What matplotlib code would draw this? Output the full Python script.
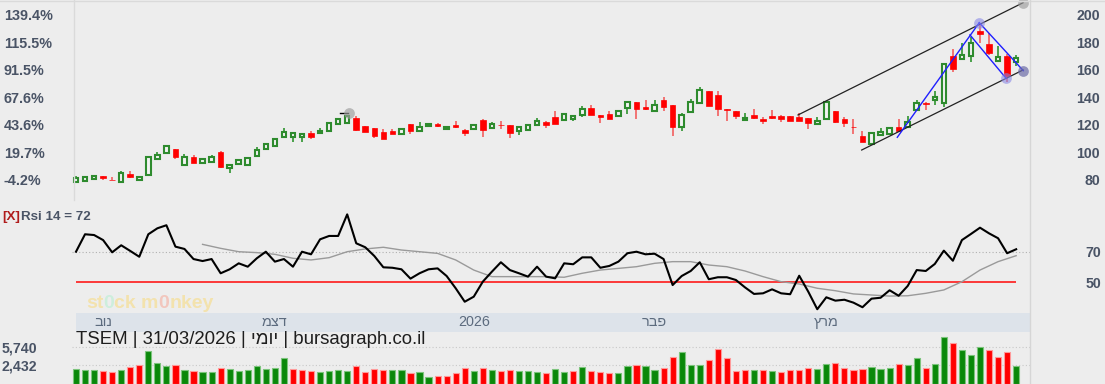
import re
import numpy as np
import matplotlib
matplotlib.use('Agg')
import matplotlib.pyplot as plt
from matplotlib.patches import Rectangle
from matplotlib.lines import Line2D
from matplotlib.ticker import NullLocator

# TSEM daily candles, session 0 = first bar on the chart (early Nov 2025)
opens = [78.8, 79.3, 80.7, 82.7, 80.2, 78.5, 84.4, 80.0, 83.4, 95.5,
         99.6, 102.5, 90.9, 96.5, 92.4, 93.1, 100.4, 88.5, 91.6, 90.7,
         97.5, 102.5, 104.7, 111.1, 111.5, 111.5, 114.4, 114.0, 115.6, 120.7,
         121.5, 125.1, 119.3, 117.8, 114.9, 115.6, 113.2, 120.7, 115.6, 119.3,
         120.5, 117.1, 120.2, 116.4, 117.1, 123.9, 117.8, 120.2, 119.8, 115.4,
         116.4, 119.8, 122.4, 125.8, 123.4, 124.4, 127.3, 132.4, 127.3, 128.0,
         126.5, 132.1, 136.5, 133.0, 130.2, 138.2, 134.5, 118.3, 129.5, 135.8,
         144.7, 141.8, 131.6, 130.0, 123.9, 127.3, 124.4, 126.5, 126.5, 126.5,
         125.8, 125.1, 120.7, 124.4, 130.2, 124.6, 118.8, 112.0, 106.2, 112.5,
         113.5, 118.5, 118.8, 130.9, 135.8, 138.2, 136.2, 170.2, 167.8, 170.2,
         188.4, 179.1, 166.5, 170.2, 165.6]
highs = [82.7, 82.7, 83.5, 82.9, 82.2, 86.5, 86.5, 82.3, 97.5, 100.4,
         105.0, 102.8, 98.9, 98.2, 95.5, 98.2, 101.1, 91.3, 94.8, 96.3,
         104.2, 106.6, 110.3, 117.8, 114.3, 113.5, 115.6, 117.8, 122.3, 125.0,
         127.6, 126.5, 119.5, 118.0, 117.1, 117.1, 117.5, 121.0, 122.2, 121.7,
         121.7, 119.4, 122.9, 116.9, 120.0, 124.6, 121.9, 122.7, 120.0, 118.5,
         120.7, 125.1, 122.6, 130.2, 128.1, 127.0, 133.8, 134.5, 127.5, 130.0,
         130.7, 137.3, 136.8, 138.2, 138.2, 140.1, 134.8, 128.9, 138.7, 147.4,
         145.0, 144.7, 131.8, 130.2, 128.5, 131.4, 126.0, 130.7, 127.5, 126.8,
         128.9, 125.3, 125.8, 136.8, 130.4, 126.0, 124.6, 115.9, 114.3, 117.8,
         118.8, 124.4, 126.5, 138.2, 136.7, 144.7, 164.5, 175.3, 179.9, 184.2,
         194.0, 186.7, 177.2, 171.6, 170.9]
lows = [78.3, 78.8, 80.5, 80.0, 79.7, 78.0, 81.8, 79.1, 83.2, 94.5,
        99.3, 95.1, 90.6, 92.0, 92.2, 93.0, 89.0, 85.3, 91.4, 90.5,
        97.3, 102.3, 104.5, 110.9, 107.9, 107.9, 109.6, 113.8, 115.3, 120.4,
        121.2, 115.8, 114.9, 110.8, 109.6, 113.5, 113.0, 113.7, 115.4, 119.1,
        118.8, 116.9, 118.1, 112.2, 116.9, 111.5, 116.9, 117.3, 110.8, 112.9,
        116.2, 119.6, 117.6, 120.7, 123.2, 123.1, 126.0, 127.3, 121.7, 124.4,
        126.3, 127.8, 124.6, 130.7, 130.0, 130.2, 112.2, 115.9, 129.3, 135.6,
        133.8, 126.5, 123.1, 124.6, 123.1, 124.1, 120.7, 124.7, 122.4, 122.9,
        122.6, 117.3, 120.5, 124.2, 121.7, 118.5, 113.7, 107.6, 106.0, 112.2,
        113.3, 115.4, 118.0, 130.7, 130.9, 134.5, 133.3, 158.8, 167.3, 165.8,
        179.4, 170.9, 166.3, 151.5, 162.9]
closes = [81.7, 82.0, 83.1, 81.5, 79.8, 84.9, 82.2, 81.9, 96.5, 98.2,
          104.5, 96.5, 96.9, 92.6, 95.1, 96.5, 89.2, 91.1, 94.3, 95.8,
          101.8, 106.2, 110.0, 114.7, 114.0, 113.2, 111.5, 115.9, 121.8, 124.6,
          126.9, 116.0, 115.1, 112.2, 109.8, 113.7, 117.3, 115.9, 118.8, 120.7,
          119.3, 118.9, 118.3, 114.4, 119.8, 116.4, 120.9, 119.8, 114.4, 118.3,
          119.8, 122.7, 120.0, 120.9, 127.8, 126.8, 131.4, 127.5, 126.0, 124.6,
          130.4, 136.9, 131.4, 131.7, 134.8, 133.3, 118.8, 127.1, 136.9, 145.5,
          134.0, 131.9, 130.9, 126.3, 124.9, 125.2, 122.9, 124.9, 124.6, 123.1,
          122.8, 121.2, 123.1, 136.5, 122.4, 121.2, 118.5, 107.9, 114.0, 114.9,
          117.8, 115.6, 122.2, 136.2, 135.1, 140.1, 164.1, 160.7, 170.7, 179.4,
          186.4, 172.1, 169.7, 155.6, 168.9]
volumes = [2070, 1970, 1970, 1830, 1740, 1970, 2270, 2500, 4880, 2750,
           2390, 2500, 1970, 1880, 1790, 1790, 2140, 2070, 1830, 1970,
           2390, 2070, 2170, 3500, 2070, 1970, 1880, 1790, 1880, 1970,
           1880, 2390, 1790, 2070, 1970, 1970, 1970, 1660, 1740, 1410,
           1480, 1480, 1660, 2170, 1880, 2170, 1970, 1880, 1970, 1880,
           1880, 1790, 1660, 2070, 1790, 1880, 2270, 1830, 1740, 1660,
           1660, 2390, 2500, 2390, 1970, 2170, 3670, 4650, 2530, 2530,
           3090, 5370, 3500, 1880, 1970, 1970, 1970, 1880, 1790, 1970,
           1970, 2170, 2070, 2620, 2750, 2170, 1970, 2070, 2270, 2070,
           2170, 2620, 2500, 3500, 2170, 2620, 9520, 7150, 5120, 4030,
           5910, 5120, 3670, 4650, 2390]

# RSI(14) per session and its moving average (read every second session)
rsi = [70.0, 81.4, 80.9, 77.6, 69.6, 74.2, 70.5, 66.7, 81.4, 85.3,
       87.3, 73.3, 71.8, 65.2, 63.9, 65.2, 55.9, 58.5, 62.4, 60.2,
       65.7, 70.0, 63.5, 65.2, 60.2, 70.0, 68.3, 78.1, 80.3, 80.3,
       94.4, 75.5, 72.9, 67.2, 59.8, 59.5, 58.5, 52.4, 55.9, 58.5,
       59.1, 54.1, 46.1, 37.3, 40.6, 50.4, 56.9, 63.1, 58.0, 55.9,
       53.7, 60.2, 53.7, 52.6, 62.4, 61.8, 66.3, 66.3, 59.5, 60.7,
       63.5, 69.0, 70.0, 68.3, 68.7, 65.2, 48.2, 54.1, 57.4, 63.1,
       52.0, 53.3, 53.3, 51.5, 46.7, 42.4, 42.8, 45.4, 42.8, 42.2,
       54.3, 43.9, 32.4, 40.2, 38.0, 38.6, 36.7, 33.7, 39.3, 39.9,
       44.8, 41.2, 47.6, 58.0, 57.4, 62.0, 70.7, 64.1, 77.6, 81.6,
       85.7, 82.0, 78.8, 69.0, 71.6]
rsi_ma_idx = list(range(14, 105, 2))
rsi_ma = [74.8, 72.2, 70.0, 69.4, 68.3, 65.7, 64.6, 66.1, 70.0, 71.8,
          72.9, 71.1, 70.0, 68.9, 64.6, 58.0, 53.7, 53.7, 53.7, 53.7,
          53.3, 55.9, 58.0, 59.1, 60.2, 62.4, 63.5, 63.5, 61.3, 60.2,
          57.4, 53.7, 50.4, 48.9, 46.1, 44.5, 42.4, 41.7, 41.0, 41.2,
          42.8, 45.0, 50.4, 58.0, 63.5, 67.4]

price_ticks = [80, 100, 120, 140, 160, 180, 200]
pct_labels = ['-4.2%', '19.7%', '43.6%', '67.6%', '91.5%', '115.5%', '139.4%']
rsi_ticks = [50, 70]
vol_ticks = [2432, 5740]
vol_labels = ['2,432', '5,740']
month_idx = [3, 22, 44, 64, 83]
month_labels = ['נוב', 'דצמ', '2026', 'פבר', 'מרץ']
title_parts = ['TSEM', '31/03/2026', 'יומי', 'bursagraph.co.il']

# user drawings on the price panel: (session, price) anchors
channel_top = ([79.87, 104.76], [127.3, 208.9])
channel_bottom = ([86.91, 104.76], [101.8, 160.0])
blue_legs = [([90.85, 99.92], [111.05, 194.4]),
             ([98.89, 102.88], [185.5, 154.0]),
             ([99.92, 104.79], [194.4, 159.5])]
gray_marks = ([30.15, 104.76], [128.5, 208.9])
blue_marks = ([99.92, 102.88], [194.4, 154.0])
end_mark = ([104.79], [159.5])
peak_dash = ([29.2, 30.1], [128.5, 128.5])

W, H = 1105, 384
X0, STEP = 76, 9.04          # pixel x of session 0, pixels per session
BG = '#ededed'
SLATE = '#4a5466'
FONT = ['Liberation Sans', 'DejaVu Sans']
plt.rcParams['font.family'] = FONT


def visual(s):
    # no bidi in matplotlib, so flip Hebrew runs to get right-to-left reading
    return re.sub(r'[\u0590-\u05FF]+', lambda m: m.group(0)[::-1], s)


def fy(y):
    return 1 - y / H


fig = plt.figure(figsize=(W / 100, H / 100), dpi=100, facecolor=BG)


def panel(x0, y0, x1, y1):
    ax = fig.add_axes([x0 / W, 1 - y1 / H, (x1 - x0) / W, (y1 - y0) / H])
    ax.set_facecolor('none')
    for s in ax.spines.values():
        s.set_visible(False)
    ax.set_xlim((x0 - X0) / STEP, (x1 - X0) / STEP)
    ax.set_xticks([])
    ax.tick_params(length=0)
    return ax


n = len(closes)
idx = np.arange(n)

# ---- price panel
ax_p = panel(72, 0, 1030, 200)
ax_p.set_ylim(65.45, 210.9)
for i in idx:
    o, h, l, c = opens[i], highs[i], lows[i], closes[i]
    if c >= o:
        ax_p.vlines(i, l, h, color='#3d9b3d', lw=1.3, zorder=1)
        ax_p.add_patch(Rectangle((i - 0.25, o), 0.5, c - o, facecolor='#f3f3f3',
                                 edgecolor='#2e8b2e', lw=1.5, zorder=2))
    else:
        ax_p.vlines(i, l, h, color='#f26a6a', lw=1.3, zorder=1)
        ax_p.add_patch(Rectangle((i - 0.31, c), 0.62, o - c, facecolor='#ff0000',
                                 edgecolor='#ff0000', lw=0.5, zorder=2))

for xs, ys in (channel_top, channel_bottom):
    ax_p.plot(xs, ys, color='#222222', lw=0.9, zorder=3)
for xs, ys in blue_legs:
    ax_p.plot(xs, ys, color='#1f1fff', lw=1.0, zorder=3)
ax_p.plot(*peak_dash, color='black', lw=1.0, zorder=3)
ax_p.scatter(*gray_marks, s=60, color='#9c9c9c', alpha=0.65, lw=0, zorder=4)
ax_p.scatter(*blue_marks, s=60, color='#8a8ae6', alpha=0.6, lw=0, zorder=4)
ax_p.scatter(*end_mark, s=60, color='#6c6ca8', alpha=0.7, lw=0, zorder=4)

ax_p.set_yticks(price_ticks, pct_labels, fontweight='bold', ha='left')
ax_p.tick_params(axis='y', pad=49, labelsize=10.4, labelcolor=SLATE)

ax_pr = ax_p.twinx()
for s in ax_pr.spines.values():
    s.set_visible(False)
ax_pr.set_ylim(ax_p.get_ylim())
ax_pr.set_yticks(price_ticks, [str(p) for p in price_ticks], fontweight='bold', ha='right')
ax_pr.tick_params(axis='y', length=0, pad=50.4, labelsize=10.2, labelcolor=SLATE)

# ---- RSI panel
ax_r = panel(72, 200, 1030, 313)
ax_r.set_ylim(29.93, 103.8)
ax_r.axhline(70, color='#b0b0b0', lw=0.8, ls=(0, (1, 2)))
ax_r.hlines(50, 0, n - 1, color='#ff1a1a', lw=1.2)
ax_r.plot(rsi_ma_idx, rsi_ma, color='#9a9a9a', lw=1.0)
ax_r.plot(idx, rsi, color='black', lw=1.5)
ax_r.yaxis.tick_right()
ax_r.set_yticks(rsi_ticks, [str(t) for t in rsi_ticks], fontweight='bold', ha='right')
ax_r.tick_params(axis='y', pad=51, labelsize=10.2, labelcolor=SLATE)

fig.text(2 / W, fy(217), '[X]', color='#b01c1c', fontsize=9.6, fontweight='bold', va='center')
fig.text(21 / W, fy(217), f'Rsi 14 = {round(rsi[-1])}', color=SLATE, fontsize=9.6,
         fontweight='bold', va='center')

# watermark
wm = [('st', '#f3e2ad'), ('0', '#cdeedc'), ('ck m', '#f3e2ad'), ('0', '#f2c6bd'), ('nkey', '#f3e2ad')]
t = fig.text(86 / W, fy(308), wm[0][0], color=wm[0][1], fontsize=14, fontweight='bold')
for txt, col in wm[1:]:
    t = ax_r.annotate(txt, xy=(1, 0), xycoords=t, va='bottom', ha='left', color=col,
                      fontsize=14, fontweight='bold', annotation_clip=False)

# ---- month band
ax_d = panel(76, 313, 1030, 331.5)
ax_d.set_facecolor('#dde3ea')
ax_d.set_yticks([])
for m, lbl in zip(month_idx, month_labels):
    ax_d.text(m, 0.5, visual(lbl), transform=ax_d.get_xaxis_transform(), ha='center',
              va='center', fontsize=10.4, color='#5c6b7e')

# ---- volume panel
ax_v = panel(72, 331.5, 1030, 384)
ax_v.set_yscale('log')
ax_v.set_ylim(1000, 12200)
ax_v.yaxis.set_minor_locator(NullLocator())
prev = np.r_[opens[0], closes[:-1]]
rising = np.array(closes) >= prev
ax_v.bar(idx, np.array(volumes) - 1000, bottom=1000, width=0.68,
         color=np.where(rising, '#0a880a', '#ff0000'),
         edgecolor=np.where(rising, '#7cc47c', '#ff9a9a'), lw=0.8)
ax_v.hlines(vol_ticks, *ax_v.get_xlim(), color='#c8c8c8', lw=0.8, ls=(0, (1, 2)), zorder=0)
ax_v.set_yticks(vol_ticks, vol_labels, fontweight='bold', ha='left')
ax_v.tick_params(axis='y', pad=50.4, labelsize=10.2, labelcolor=SLATE)

fig.text(76 / W, fy(339), visual(' | '.join(title_parts)), fontsize=13.4, color='#1e1e1e',
         va='center', family=FONT)

# frame lines
fig.add_artist(Line2D([0, 1], [fy(0.5)] * 2, color='#dadada', lw=1))
fig.add_artist(Line2D([74 / W] * 2, [fy(0), fy(200)], color='#dadada', lw=1))
fig.add_artist(Line2D([1030 / W] * 2, [fy(0), fy(384)], color='#d6d6d6', lw=1))

fig.savefig('out.png', dpi=100, facecolor=BG)
